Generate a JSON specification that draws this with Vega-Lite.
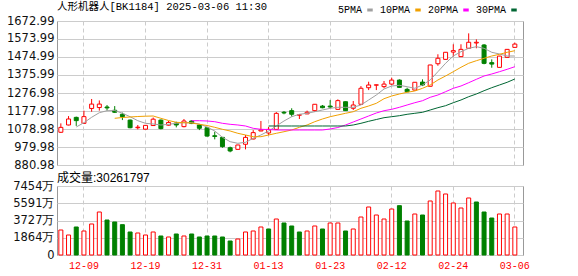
{
"$schema": "https://vega.github.io/schema/vega-lite/v6.json",
"padding": {"left": 5, "top": 1, "right": 0, "bottom": 0},
"background": "white",
"config": {
  "view": {"stroke": "#999999"},
  "axis": {"domain": false, "ticks": false, "tickSize": 0, "gridColor": "#cccccc", "title": null, "labelFont": "DejaVu Sans", "labelFontSize": 11.5, "labelColor": "#111111", "labelPadding": 3, "labelOverlap": false}
},
"data": {"values": [
{"d":"2024-12-04","o":1061,"h":1110,"l":1057,"c":1088,"v":2700,"chg":"up","5PMA":null,"10PMA":null,"20PMA":null,"30PMA":null},
{"d":"2024-12-05","o":1101,"h":1150,"l":1099,"c":1134,"v":2160,"chg":"up","5PMA":null,"10PMA":null,"20PMA":null,"30PMA":null},
{"d":"2024-12-06","o":1143,"h":1147,"l":1096,"c":1125,"v":3025,"chg":"down","5PMA":1090,"10PMA":null,"20PMA":null,"30PMA":null},
{"d":"2024-12-09","o":1110,"h":1180,"l":1108,"c":1147,"v":2593,"chg":"up","5PMA":1113.6,"10PMA":null,"20PMA":null,"30PMA":null},
{"d":"2024-12-10","o":1192,"h":1244,"l":1174,"c":1216,"v":3349,"chg":"up","5PMA":1143.3,"10PMA":null,"20PMA":null,"30PMA":null},
{"d":"2024-12-11","o":1197,"h":1236,"l":1180,"c":1216,"v":4645,"chg":"up","5PMA":1168.6,"10PMA":null,"20PMA":null,"30PMA":null},
{"d":"2024-12-12","o":1200,"h":1211,"l":1180,"c":1195,"v":3781,"chg":"down","5PMA":1179.6,"10PMA":null,"20PMA":null,"30PMA":null},
{"d":"2024-12-13","o":1182,"h":1205,"l":1168,"c":1171,"v":3565,"chg":"down","5PMA":1180.7,"10PMA":1137.8,"20PMA":null,"30PMA":null},
{"d":"2024-12-16","o":1160,"h":1169,"l":1128,"c":1147,"v":3277,"chg":"down","5PMA":1165.3,"10PMA":1142.2,"20PMA":null,"30PMA":null},
{"d":"2024-12-17","o":1128,"h":1131,"l":1083,"c":1086,"v":2485,"chg":"down","5PMA":1146.7,"10PMA":1145,"20PMA":null,"30PMA":null},
{"d":"2024-12-18","o":1086,"h":1101,"l":1077,"c":1089,"v":2377,"chg":"up","5PMA":1124.6,"10PMA":1147.7,"20PMA":null,"30PMA":null},
{"d":"2024-12-19","o":1078,"h":1101,"l":1077,"c":1099,"v":2160,"chg":"up","5PMA":1110.3,"10PMA":1149.4,"20PMA":null,"30PMA":null},
{"d":"2024-12-20","o":1098,"h":1142,"l":1097,"c":1133,"v":2485,"chg":"up","5PMA":1106.5,"10PMA":1150.5,"20PMA":null,"30PMA":null},
{"d":"2024-12-23","o":1128,"h":1131,"l":1077,"c":1081,"v":2053,"chg":"down","5PMA":1101,"10PMA":1137.8,"20PMA":null,"30PMA":null},
{"d":"2024-12-24","o":1100,"h":1123,"l":1098,"c":1115,"v":1945,"chg":"up","5PMA":1104.8,"10PMA":1125.7,"20PMA":null,"30PMA":null},
{"d":"2024-12-25","o":1112,"h":1119,"l":1088,"c":1101,"v":2269,"chg":"down","5PMA":1110.3,"10PMA":1115.8,"20PMA":null,"30PMA":null},
{"d":"2024-12-26","o":1092,"h":1134,"l":1088,"c":1123,"v":2053,"chg":"up","5PMA":1113.6,"10PMA":1113.6,"20PMA":null,"30PMA":null},
{"d":"2024-12-27","o":1123,"h":1127,"l":1106,"c":1109,"v":2269,"chg":"down","5PMA":1113.6,"10PMA":1112,"20PMA":1124.6,"30PMA":null},
{"d":"2024-12-30","o":1101,"h":1105,"l":1073,"c":1083,"v":1945,"chg":"down","5PMA":1106.5,"10PMA":1104.8,"20PMA":1124.6,"30PMA":null},
{"d":"2024-12-31","o":1086,"h":1088,"l":1038,"c":1040,"v":2053,"chg":"down","5PMA":1090,"10PMA":1098.2,"20PMA":1123,"30PMA":null},
{"d":"2025-01-02","o":1042,"h":1064,"l":1022,"c":1038,"v":2053,"chg":"down","5PMA":1068,"10PMA":1088.3,"20PMA":1119.2,"30PMA":null},
{"d":"2025-01-03","o":1033,"h":1035,"l":976,"c":982,"v":1945,"chg":"down","5PMA":1033.3,"10PMA":1077.3,"20PMA":1110.3,"30PMA":null},
{"d":"2025-01-06","o":976,"h":982,"l":951,"c":958,"v":1512,"chg":"down","5PMA":1009.2,"10PMA":1068,"20PMA":1104.8,"30PMA":null},
{"d":"2025-01-07","o":967,"h":992,"l":966,"c":991,"v":1728,"chg":"up","5PMA":1000.3,"10PMA":1055.3,"20PMA":1101,"30PMA":null},
{"d":"2025-01-08","o":995,"h":1046,"l":967,"c":1033,"v":2485,"chg":"up","5PMA":1005.8,"10PMA":1046,"20PMA":1095.5,"30PMA":null},
{"d":"2025-01-09","o":1024,"h":1073,"l":1022,"c":1059,"v":2593,"chg":"up","5PMA":1027.8,"10PMA":1036.6,"20PMA":1082.8,"30PMA":null},
{"d":"2025-01-10","o":1068,"h":1123,"l":1067,"c":1074,"v":3025,"chg":"up","5PMA":1046,"10PMA":1036.6,"20PMA":1077.3,"30PMA":null},
{"d":"2025-01-13","o":1057,"h":1090,"l":1045,"c":1077,"v":2809,"chg":"down","5PMA":1068,"10PMA":1046,"20PMA":1076.2,"30PMA":1095.5},
{"d":"2025-01-14","o":1077,"h":1172,"l":1076,"c":1165,"v":3889,"chg":"up","5PMA":1095.5,"10PMA":1055.3,"20PMA":1073.5,"30PMA":1095.5},
{"d":"2025-01-15","o":1171,"h":1178,"l":1160,"c":1167,"v":3457,"chg":"down","5PMA":1123,"10PMA":1064.1,"20PMA":1073.5,"30PMA":1095.5},
{"d":"2025-01-16","o":1180,"h":1193,"l":1147,"c":1160,"v":3133,"chg":"down","5PMA":1146.7,"10PMA":1073.5,"20PMA":1073.5,"30PMA":1095.5},
{"d":"2025-01-17","o":1155,"h":1158,"l":1134,"c":1157,"v":2485,"chg":"down","5PMA":1159.8,"10PMA":1088.3,"20PMA":1073.5,"30PMA":1095.5},
{"d":"2025-01-20","o":1162,"h":1180,"l":1161,"c":1171,"v":2593,"chg":"up","5PMA":1165.3,"10PMA":1101,"20PMA":1073.5,"30PMA":1095.5},
{"d":"2025-01-21","o":1180,"h":1216,"l":1174,"c":1215,"v":3133,"chg":"up","5PMA":1174.1,"10PMA":1119.2,"20PMA":1073.5,"30PMA":1095.5},
{"d":"2025-01-22","o":1205,"h":1211,"l":1193,"c":1196,"v":2809,"chg":"down","5PMA":1183.5,"10PMA":1134,"20PMA":1073.5,"30PMA":1095.5},
{"d":"2025-01-23","o":1205,"h":1238,"l":1193,"c":1200,"v":3457,"chg":"up","5PMA":1192.8,"10PMA":1146.7,"20PMA":1079,"30PMA":1095.5},
{"d":"2025-01-24","o":1187,"h":1242,"l":1186,"c":1235,"v":3457,"chg":"up","5PMA":1198.3,"10PMA":1156,"20PMA":1087.2,"30PMA":1095.5},
{"d":"2025-01-27","o":1229,"h":1230,"l":1179,"c":1180,"v":2593,"chg":"down","5PMA":1198.3,"10PMA":1165.3,"20PMA":1101,"30PMA":1095.5},
{"d":"2025-02-05","o":1193,"h":1233,"l":1183,"c":1211,"v":2809,"chg":"up","5PMA":1198.3,"10PMA":1174.1,"20PMA":1117.5,"30PMA":1101},
{"d":"2025-02-06","o":1215,"h":1315,"l":1214,"c":1303,"v":4105,"chg":"up","5PMA":1211,"10PMA":1192.8,"20PMA":1134,"30PMA":1110.3},
{"d":"2025-02-07","o":1306,"h":1339,"l":1293,"c":1321,"v":5185,"chg":"up","5PMA":1238.5,"10PMA":1205.5,"20PMA":1150.5,"30PMA":1121.3},
{"d":"2025-02-10","o":1320,"h":1323,"l":1293,"c":1322,"v":4321,"chg":"up","5PMA":1266,"10PMA":1220.3,"20PMA":1167,"30PMA":1131.2},
{"d":"2025-02-11","o":1312,"h":1343,"l":1303,"c":1326,"v":3889,"chg":"up","5PMA":1299,"10PMA":1245.6,"20PMA":1179.6,"30PMA":1141.2},
{"d":"2025-02-12","o":1326,"h":1361,"l":1321,"c":1348,"v":4969,"chg":"up","5PMA":1315.5,"10PMA":1260.5,"20PMA":1187.3,"30PMA":1146.7},
{"d":"2025-02-13","o":1348,"h":1352,"l":1307,"c":1308,"v":5329,"chg":"down","5PMA":1319.3,"10PMA":1271.5,"20PMA":1198.3,"30PMA":1152.2},
{"d":"2025-02-14","o":1297,"h":1306,"l":1282,"c":1284,"v":3673,"chg":"down","5PMA":1311.6,"10PMA":1280.8,"20PMA":1211,"30PMA":1159.8},
{"d":"2025-02-17","o":1293,"h":1337,"l":1292,"c":1336,"v":4429,"chg":"up","5PMA":1302.8,"10PMA":1288,"20PMA":1223.6,"30PMA":1165.3},
{"d":"2025-02-18","o":1337,"h":1352,"l":1315,"c":1321,"v":4321,"chg":"down","5PMA":1321,"10PMA":1302.8,"20PMA":1234.6,"30PMA":1170.8},
{"d":"2025-02-19","o":1314,"h":1432,"l":1313,"c":1431,"v":5834,"chg":"up","5PMA":1348.5,"10PMA":1321,"20PMA":1253.3,"30PMA":1183.5},
{"d":"2025-02-20","o":1438,"h":1490,"l":1427,"c":1468,"v":6914,"chg":"up","5PMA":1394.2,"10PMA":1348.5,"20PMA":1266,"30PMA":1196.2},
{"d":"2025-02-21","o":1462,"h":1502,"l":1461,"c":1501,"v":6590,"chg":"up","5PMA":1440.4,"10PMA":1370.5,"20PMA":1284.1,"30PMA":1207.2},
{"d":"2025-02-24","o":1502,"h":1545,"l":1477,"c":1510,"v":5618,"chg":"up","5PMA":1480.5,"10PMA":1394.2,"20PMA":1302.8,"30PMA":1223.6},
{"d":"2025-02-25","o":1477,"h":1545,"l":1475,"c":1517,"v":5077,"chg":"up","5PMA":1504.2,"10PMA":1418.4,"20PMA":1315.5,"30PMA":1238.5},
{"d":"2025-02-26","o":1523,"h":1605,"l":1522,"c":1556,"v":6158,"chg":"up","5PMA":1522.8,"10PMA":1440.4,"20PMA":1333.6,"30PMA":1256.6},
{"d":"2025-02-27","o":1552,"h":1572,"l":1523,"c":1556,"v":5726,"chg":"down","5PMA":1531.6,"10PMA":1454.6,"20PMA":1352.3,"30PMA":1271.5},
{"d":"2025-02-28","o":1541,"h":1546,"l":1435,"c":1440,"v":4645,"chg":"down","5PMA":1522.8,"10PMA":1467.8,"20PMA":1370.5,"30PMA":1289.6},
{"d":"2025-03-03","o":1444,"h":1462,"l":1416,"c":1436,"v":3997,"chg":"down","5PMA":1500.8,"10PMA":1480.5,"20PMA":1381.5,"30PMA":1306.2},
{"d":"2025-03-04","o":1418,"h":1481,"l":1417,"c":1480,"v":4429,"chg":"up","5PMA":1491.5,"10PMA":1489.8,"20PMA":1394.2,"30PMA":1321},
{"d":"2025-03-05","o":1473,"h":1519,"l":1472,"c":1517,"v":4429,"chg":"up","5PMA":1480.5,"10PMA":1500.8,"20PMA":1407.3,"30PMA":1335.8},
{"d":"2025-03-06","o":1528,"h":1554,"l":1527,"c":1546,"v":3026,"chg":"up","5PMA":1480.5,"10PMA":1509.6,"20PMA":1421.7,"30PMA":1354}
]},
"spacing": 21,
"bounds": "flush",
"vconcat": [
{
  "width": 466, "height": 144,
  "title": {"text": "人形机器人[BK1184] 2025-03-06 11:30", "anchor": "start", "frame": "group", "font": "Liberation Mono, Noto Sans CJK SC", "fontSize": 10.5, "fontWeight": "normal", "color": "#000000", "offset": -7, "baseline": "bottom"},
  "encoding": {
    "x": {"field": "d", "type": "ordinal", "scale": {"type": "band", "paddingInner": 0, "paddingOuter": 0.28, "align": 0},
      "axis": {"values": ["2024-12-09","2024-12-19","2024-12-31","2025-01-13","2025-01-23","2025-02-12","2025-02-24","2025-03-06"], "labels": false, "grid": true, "gridDash": [4,3], "gridColor": "#cccccc"}}
  },
  "layer": [
    {"mark": {"type": "rule", "strokeWidth": 1},
     "encoding": {
       "y": {"field": "l", "type": "quantitative", "scale": {"domain": [880.98, 1672.99], "nice": false, "zero": false},
         "axis": {"values": [880.98, 979.98, 1078.98, 1177.98, 1276.98, 1375.99, 1474.99, 1573.99, 1672.99], "tickCount": 20, "format": ".2f", "grid": true, "labelOverlap": false}},
       "y2": {"field": "h"},
       "stroke": {"condition": {"test": "datum.c >= datum.o", "value": "#ff0000"}, "value": "#008000"}
     }},
    {"mark": {"type": "bar", "size": 4, "strokeWidth": 1},
     "encoding": {
       "y": {"field": "o", "type": "quantitative",
         "axis": {"values": [880.98, 979.98, 1078.98, 1177.98, 1276.98, 1375.99, 1474.99, 1573.99, 1672.99], "tickCount": 20, "format": ".2f", "grid": true, "labelOverlap": false}},
       "y2": {"field": "c"},
       "fill": {"condition": {"test": "datum.c >= datum.o", "value": "#ffffff"}, "value": "#008000"},
       "stroke": {"condition": {"test": "datum.c >= datum.o", "value": "#ff0000"}, "value": "#008000"}
     }},
    {"transform": [{"fold": ["5PMA","10PMA","20PMA","30PMA"], "as": ["ma","val"]}, {"filter": "isValid(datum.val)"}],
     "mark": {"type": "line", "strokeWidth": 1},
     "encoding": {
       "y": {"field": "val", "type": "quantitative",
         "axis": {"values": [880.98, 979.98, 1078.98, 1177.98, 1276.98, 1375.99, 1474.99, 1573.99, 1672.99], "tickCount": 20, "format": ".2f", "grid": true, "labelOverlap": false}},
       "color": {"field": "ma", "type": "nominal",
         "scale": {"domain": ["5PMA","10PMA","20PMA","30PMA"], "range": ["#a0a0a0","#f0a000","#ff00ff","#006633"]},
         "legend": {"orient": "none", "legendX": 308, "legendY": -16, "direction": "horizontal", "title": null, "symbolType": "stroke", "symbolSize": 30, "symbolStrokeWidth": 3, "labelFont": "Liberation Mono", "labelFontSize": 10, "labelColor": "#000000", "labelAlign": "right", "labelOffset": -13, "columnPadding": 0, "gridAlign": "each", "padding": 0}}
     }}
  ]
},
{
  "width": 466, "height": 69,
  "title": {"text": "成交量:30261797", "anchor": "start", "frame": "group", "font": "Liberation Sans, Noto Sans CJK SC", "fontSize": 12, "fontWeight": "normal", "color": "#000000", "offset": -16.7, "baseline": "bottom"},
  "mark": {"type": "bar", "size": 4, "strokeWidth": 1},
  "encoding": {
    "x": {"field": "d", "type": "ordinal", "scale": {"type": "band", "paddingInner": 0, "paddingOuter": 0.28, "align": 0},
      "axis": {"values": ["2024-12-09","2024-12-19","2024-12-31","2025-01-13","2025-01-23","2025-02-12","2025-02-24","2025-03-06"], "labelExpr": "slice(datum.value, 5)", "labelAngle": 0, "labelColor": "#ff0000", "labelFont": "Liberation Mono", "labelFontSize": 10, "labelPadding": 5, "grid": true, "gridDash": [4,3], "gridColor": "#cccccc"}},
    "y": {"field": "v", "type": "quantitative", "scale": {"domain": [0, 7454], "nice": false},
      "axis": {"values": [0, 1864, 3727, 5591, 7454], "tickCount": 20, "labelExpr": "datum.value == 0 ? '0' : datum.value + '万'", "grid": true}},
    "fill": {"condition": {"test": "datum.chg == 'up'", "value": "#ffffff"}, "value": "#008000"},
    "stroke": {"condition": {"test": "datum.chg == 'up'", "value": "#ff0000"}, "value": "#008000"}
  }
}
]
}
